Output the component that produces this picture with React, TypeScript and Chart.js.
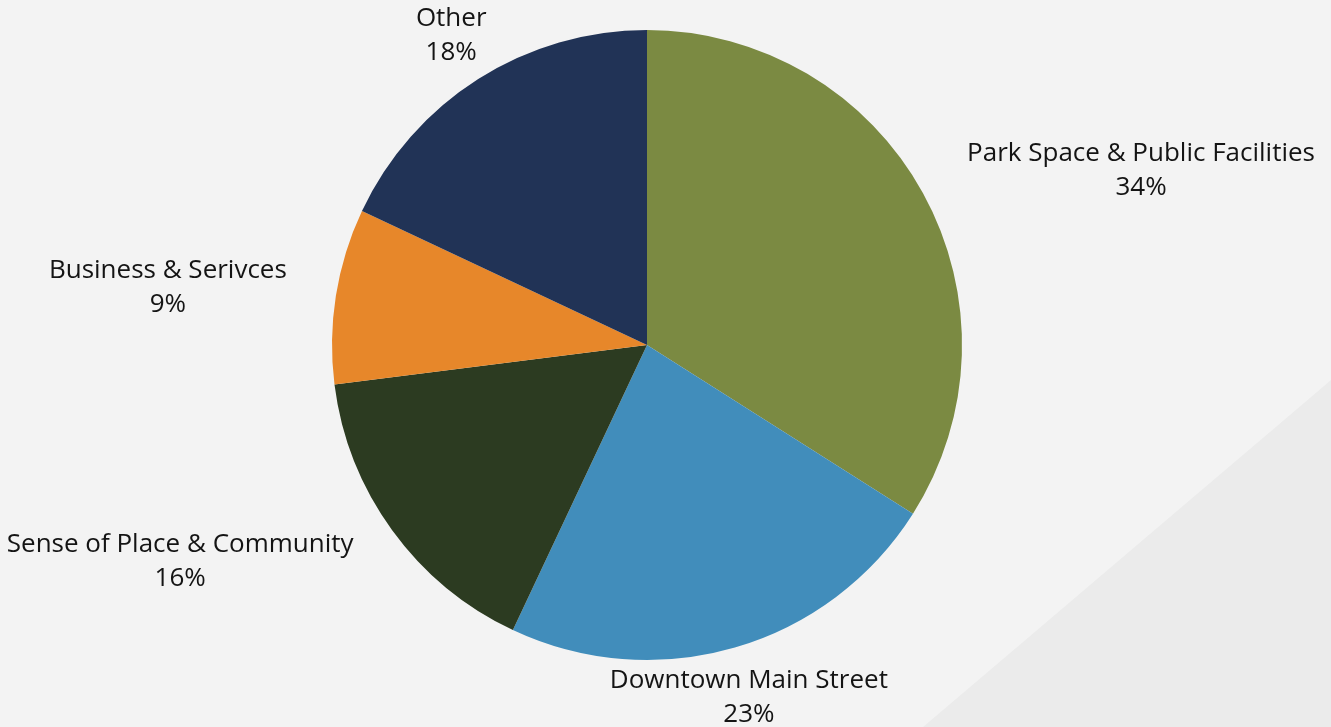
import React, { useEffect, useRef } from "react";
import { Chart, registerables } from "chart.js";

Chart.register(...registerables);

const categories = [
  "Park Space & Public Facilities",
  "Downtown Main Street",
  "Sense of Place & Community",
  "Business & Serivces",
  "Other",
];
const percentages = [34, 23, 16, 9, 18];
const sliceColors = ["#7B8A42", "#418DBB", "#2C3B21", "#E7872A", "#213356"];
// label block center offset from slice's outer-edge midpoint (px)
const labelOffsets: [number, number][] = [
  [218, -23],
  [14, 50],
  [-212, 31],
  [-168, -8],
  [-27, -43],
];

const FONT = "'Open Sans', sans-serif";

const labelPlugin = {
  id: "outerLabels",
  afterDatasetsDraw(chart: any) {
    const ctx = chart.ctx;
    const meta = chart.getDatasetMeta(0);
    ctx.save();
    ctx.fillStyle = "#141414";
    ctx.font = `26px ${FONT}`;
    ctx.textAlign = "center";
    ctx.textBaseline = "middle";
    meta.data.forEach((arc: any, i: number) => {
      const { x, y, startAngle, endAngle, outerRadius } = arc.getProps(
        ["x", "y", "startAngle", "endAngle", "outerRadius"],
        true
      );
      const mid = (startAngle + endAngle) / 2;
      const ex = x + Math.cos(mid) * outerRadius;
      const ey = y + Math.sin(mid) * outerRadius;
      const cx = ex + labelOffsets[i][0];
      const cy = ey + labelOffsets[i][1];
      ctx.fillText(categories[i], cx, cy - 17);
      ctx.fillText(percentages[i] + "%", cx, cy + 17);
    });
    ctx.restore();
  },
};

export default function App() {
  const ref = useRef<HTMLCanvasElement>(null);
  useEffect(() => {
    document.body.style.margin = "0";
    const chart = new Chart(ref.current!, {
      type: "pie",
      data: {
        labels: categories,
        datasets: [
          {
            data: percentages,
            backgroundColor: sliceColors,
            borderWidth: 0,
          },
        ],
      },
      options: {
        animation: false,
        responsive: false,
        layout: { padding: { left: 332, right: 369, top: 30, bottom: 67 } },
        plugins: {
          legend: { display: false },
          tooltip: { enabled: false },
        },
      },
      plugins: [labelPlugin],
    });
    return () => chart.destroy();
  }, []);
  return (
    <div
      style={{
        position: "relative",
        width: 1331,
        height: 727,
        background: "#F3F3F3",
        overflow: "hidden",
      }}
    >
      <div
        style={{
          position: "absolute",
          inset: 0,
          background: "#EBEBEB",
          clipPath: "polygon(1331px 380px, 1331px 727px, 923px 727px)",
        }}
      />
      <canvas
        ref={ref}
        width={1331}
        height={727}
        style={{ position: "absolute", left: 0, top: 0 }}
      />
    </div>
  );
}
